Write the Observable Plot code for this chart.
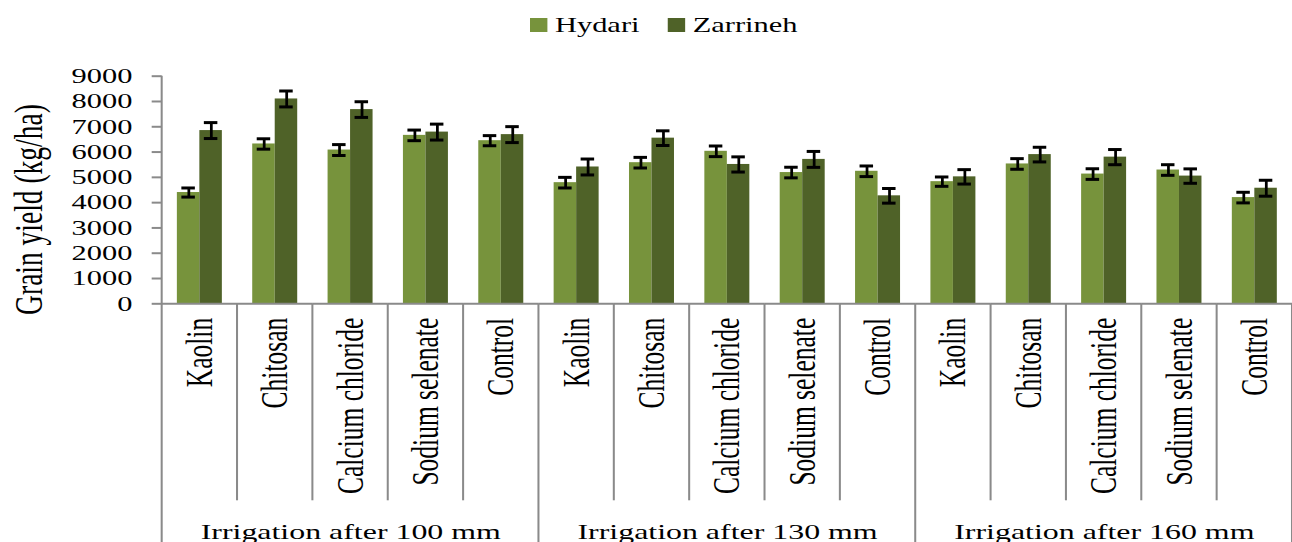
<!DOCTYPE html>
<html>
<head>
<meta charset="utf-8">
<script src="https://cdn.jsdelivr.net/npm/d3@7"></script>
<script src="https://cdn.jsdelivr.net/npm/@observablehq/plot@0.6"></script>
<style>
  body { margin: 0; background: #fff; font-family: 'Liberation Serif', 'Times New Roman', serif; }
  #legend { position: relative; width: 1292px; height: 50px; }
  #legend .inner { position: absolute; left: 530px; top: 0; height: 50px; display: flex; align-items: center;
    transform: scaleX(1.45); transform-origin: 0 0; font-size: 21px; color: #000; white-space: nowrap; }
  #legend .sw { display: inline-block; width: 11.5px; height: 13.3px; }
</style>
</head>
<body>
<div id="legend"></div>
<div id="chart"></div>
<script>
// ---------------- data ----------------
const groups = ["Irrigation after 100 mm", "Irrigation after 130 mm", "Irrigation after 160 mm"];
const treatments = ["Kaolin", "Chitosan", "Calcium chloride", "Sodium selenate", "Control"];
const varieties = ["Hydari", "Zarrineh"];
const colors = ["#77933C", "#4F6228"];
// values in group order (100 mm: 5 treatments, 130 mm: 5, 160 mm: 5)
const hydari    = [4400, 6320, 6080, 6660, 6450,  4790, 5580, 6030, 5190, 5240,  4830, 5530, 5130, 5290, 4200];
const zarrineh  = [6850, 8100, 7680, 6790, 6690,  5410, 6550, 5510, 5710, 4270,  5020, 5900, 5800, 5050, 4570];
const hydariErr   = [180, 205, 215, 210, 200,  210, 210, 210, 210, 210,  185, 210, 210, 210, 210];
const zarrinehErr = [315, 315, 310, 315, 315,  315, 290, 300, 315, 290,  285, 290, 300, 285, 315];
const yTicks = [0, 1000, 2000, 3000, 4000, 5000, 6000, 7000, 8000, 9000];
const yTitle = "Grain yield (kg/ha)";

// ---------------- tables ----------------
const keys = [];
groups.forEach((g, gi) => treatments.forEach(t => keys.push(gi + "|" + t)));
const rows = [];
keys.forEach((k, i) => {
  rows.push({key: k, variety: varieties[0], value: hydari[i], err: hydariErr[i]});
  rows.push({key: k, variety: varieties[1], value: zarrineh[i], err: zarrinehErr[i]});
});
const groupLabels = groups.map((g, gi) => ({key: gi + "|" + treatments[2], label: g}));

// ---------------- legend ----------------
const legend = d3.select("#legend").append("div").attr("class", "inner");
varieties.forEach((v, i) => {
  legend.append("span").attr("class", "sw").style("background", colors[i])
    .style("margin-left", i === 0 ? "0px" : "19.5px").style("margin-right", "5.7px");
  legend.append("span").text(v);
});

// ---------------- separators (custom mark using the fx scale) ----------------
class Separators extends Plot.Mark {
  constructor(options = {}) { super(undefined, {}, options); }
  render(index, scales, values, dimensions) {
    const {height, marginTop, marginBottom} = dimensions;
    const fx = scales.fx;
    const bw = fx.bandwidth();
    const bottom = height - marginBottom;
    const g = d3.create("svg:g").attr("stroke", "#8a8a8a").attr("stroke-width", 1.4);
    keys.forEach((k, i) => {
      const x0 = fx(k);
      g.append("line").attr("x1", x0).attr("x2", x0)
        .attr("y1", i === 0 ? marginTop : bottom)
        .attr("y2", i % 5 === 0 ? height : bottom + 197);
    });
    const xe = fx(keys[keys.length - 1]) + bw;
    g.append("line").attr("x1", xe).attr("x2", xe).attr("y1", bottom).attr("y2", height);
    return g.node();
  }
}

// ---------------- chart ----------------
const W = 891, H = 492;
const svg = Plot.plot({
  width: W,
  height: H,
  marginLeft: 111.5,
  marginRight: 0,
  marginTop: 25.7,
  marginBottom: 238.7,
  style: {fontFamily: "'Liberation Serif', 'Times New Roman', serif", fontSize: "21px", background: "white", color: "black", overflow: "visible"},
  fx: {domain: keys, padding: 0, round: false},
  x: {domain: varieties, paddingInner: 0, paddingOuter: 0.675, round: false, axis: null},
  y: {domain: [0, 9000]},
  color: {domain: varieties, range: colors},
  marks: [
    Plot.barY(rows, {fx: "key", x: "variety", y: "value", fill: "variety"}),
    Plot.ruleX(rows, {fx: "key", x: "variety", y1: d => d.value - d.err, y2: d => d.value + d.err, stroke: "black", strokeWidth: 1.9}),
    Plot.tickY(rows, {fx: "key", x: "variety", y: d => d.value - d.err, stroke: "black", strokeWidth: 3, insetLeft: 3.1, insetRight: 3.1}),
    Plot.tickY(rows, {fx: "key", x: "variety", y: d => d.value + d.err, stroke: "black", strokeWidth: 3, insetLeft: 3.1, insetRight: 3.1}),
    Plot.ruleY([0], {stroke: "#8a8a8a", strokeWidth: 2}),
    new Separators({facetAnchor: "left"}),
    Plot.axisY({ticks: yTicks, tickFormat: "d", tickSize: 6.9, tickPadding: 13.8, fontSize: 21, stroke: "#8a8a8a", strokeWidth: 2, label: null}),
    Plot.axisFx({anchor: "bottom", tickRotate: -90, tickSize: 0, tickPadding: 14, fontSize: 25.5, tickFormat: k => k.split("|")[1], label: null}),
    Plot.text(groupLabels, {fx: "key", text: "label", frameAnchor: "bottom", lineAnchor: "bottom", dy: 234.7, fontSize: 22, fill: "black"}),
    Plot.text([yTitle], {frameAnchor: "left", textAnchor: "middle", rotate: -90, lineAnchor: "top", dx: -102.5, dy: 19.5, fontSize: 27.5, fill: "black", facetAnchor: "left"})
  ]
});
svg.setAttribute("width", 1292);
svg.setAttribute("height", H);
svg.setAttribute("preserveAspectRatio", "none");
svg.style.width = "1292px";
svg.style.height = H + "px";
svg.style.maxWidth = "none";
svg.style.display = "block";
document.getElementById("chart").appendChild(svg);
</script>
</body>
</html>
